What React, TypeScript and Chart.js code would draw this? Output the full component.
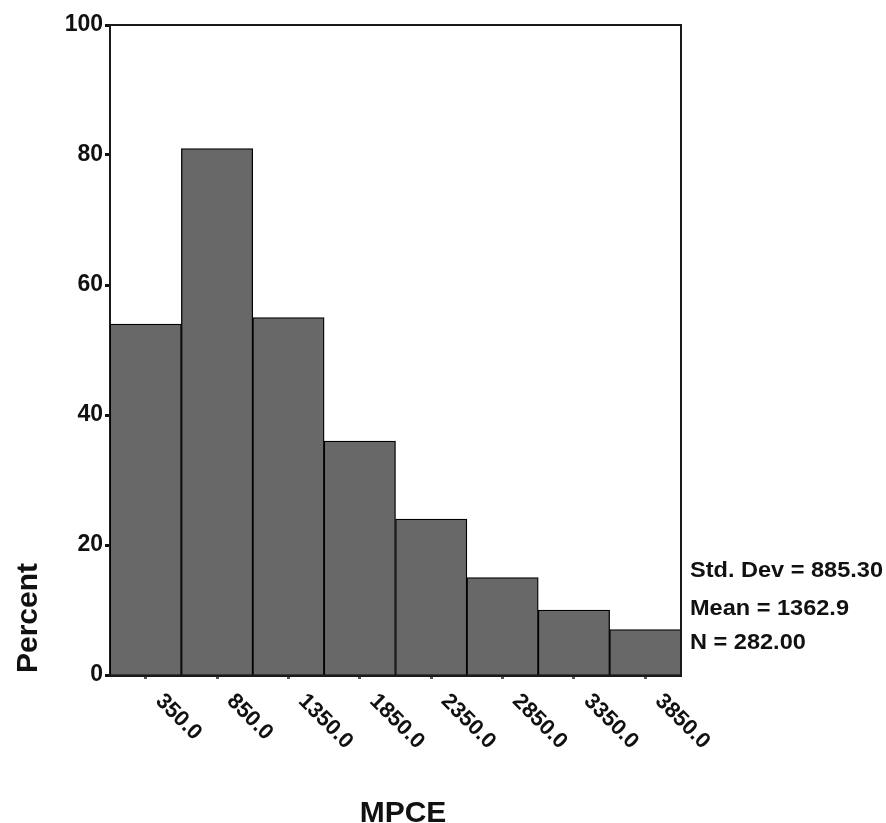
import { useEffect, useRef } from 'react';
import { Chart, registerables } from 'chart.js';

Chart.register(...registerables);

// ---- data ----
const binLabels = ['350.0', '850.0', '1350.0', '1850.0', '2350.0', '2850.0', '3350.0', '3850.0'];
const percentValues = [54, 81, 55, 36, 24, 15, 10, 7];
const yMin = 0;
const yMax = 100;
const yStep = 20;
const xTitle = 'MPCE';
const yTitle = 'Percent';
const statsLines = ['Std. Dev = 885.30', 'Mean = 1362.9', 'N = 282.00'];

const FONT = '"Liberation Sans", Arial, sans-serif';

export default function App() {
  const ref = useRef<HTMLCanvasElement>(null);

  useEffect(() => {
    document.body.style.margin = '0';
    const canvas = ref.current;
    if (!canvas) return;

    const overlay = {
      id: 'overlay',
      beforeDraw(chart: any) {
        const ctx = chart.ctx;
        ctx.save();
        ctx.fillStyle = '#ffffff';
        ctx.fillRect(0, 0, chart.width, chart.height);
        ctx.restore();
      },
      afterDraw(chart: any) {
        const ctx: CanvasRenderingContext2D = chart.ctx;
        const a = chart.chartArea;
        const xs = chart.scales.x;
        ctx.save();
        // top and right frame lines
        ctx.strokeStyle = '#1a1a1a';
        ctx.lineWidth = 2;
        ctx.beginPath();
        ctx.moveTo(a.left, a.top);
        ctx.lineTo(a.right, a.top);
        ctx.lineTo(a.right, a.bottom);
        ctx.stroke();

        // rotated category labels (down-right)
        ctx.fillStyle = '#111';
        ctx.font = `bold 22px ${FONT}`;
        ctx.textAlign = 'left';
        ctx.textBaseline = 'alphabetic';
        binLabels.forEach((lab, i) => {
          const px = xs.getPixelForTick(i);
          ctx.save();
          ctx.translate(px + 9, a.bottom + 27);
          ctx.rotate(Math.PI / 4);
          ctx.fillText(lab, 0, 0);
          ctx.restore();
        });

        // x title
        ctx.font = `bold 30px ${FONT}`;
        ctx.textAlign = 'center';
        ctx.fillText(xTitle, 403, 822);

        // y title
        ctx.save();
        ctx.translate(37, 618);
        ctx.rotate(-Math.PI / 2);
        ctx.font = `bold 30px ${FONT}`;
        ctx.textAlign = 'center';
        ctx.fillText(yTitle, 0, 0);
        ctx.restore();

        // stats text
        ctx.font = `bold 22px ${FONT}`;
        ctx.textAlign = 'left';
        const baselines = [577, 615, 649];
        statsLines.forEach((s, i) => {
          ctx.save();
          ctx.translate(690, baselines[i]);
          ctx.scale(1.07, 1);
          ctx.fillText(s, 0, 0);
          ctx.restore();
        });
        ctx.restore();
      },
    };

    const chart = new Chart(canvas, {
      type: 'bar',
      data: {
        labels: binLabels,
        datasets: [
          {
            data: percentValues,
            backgroundColor: '#686868',
            borderColor: '#000',
            borderWidth: 1.3,
            categoryPercentage: 1,
            barPercentage: 1,
          },
        ],
      },
      options: {
        responsive: false,
        devicePixelRatio: 1,
        animation: false,
        layout: { padding: { left: 0, top: 25, right: 205, bottom: 0 } },
        plugins: { legend: { display: false }, tooltip: { enabled: false } },
        scales: {
          x: {
            afterFit: (s: any) => {
              s.height = 148;
            },
            ticks: { display: false },
            grid: {
              display: true,
              drawOnChartArea: false,
              offset: false,
              drawTicks: true,
              tickLength: 4,
              tickWidth: 3,
              tickColor: '#555',
            },
            border: { display: true, color: '#1a1a1a', width: 3 },
          },
          y: {
            min: yMin,
            max: yMax,
            afterFit: (s: any) => {
              s.width = 110;
            },
            ticks: {
              stepSize: yStep,
              color: '#111',
              padding: 2,
              font: { family: FONT, size: 23, weight: 'bold' },
            },
            grid: {
              display: true,
              drawOnChartArea: false,
              drawTicks: true,
              tickLength: 5,
              tickWidth: 3,
              tickColor: '#111',
            },
            border: { display: true, color: '#1a1a1a', width: 2 },
          },
        },
      },
      plugins: [overlay],
    });

    return () => chart.destroy();
  }, []);

  return <canvas ref={ref} width={886} height={823} style={{ display: 'block' }} />;
}
